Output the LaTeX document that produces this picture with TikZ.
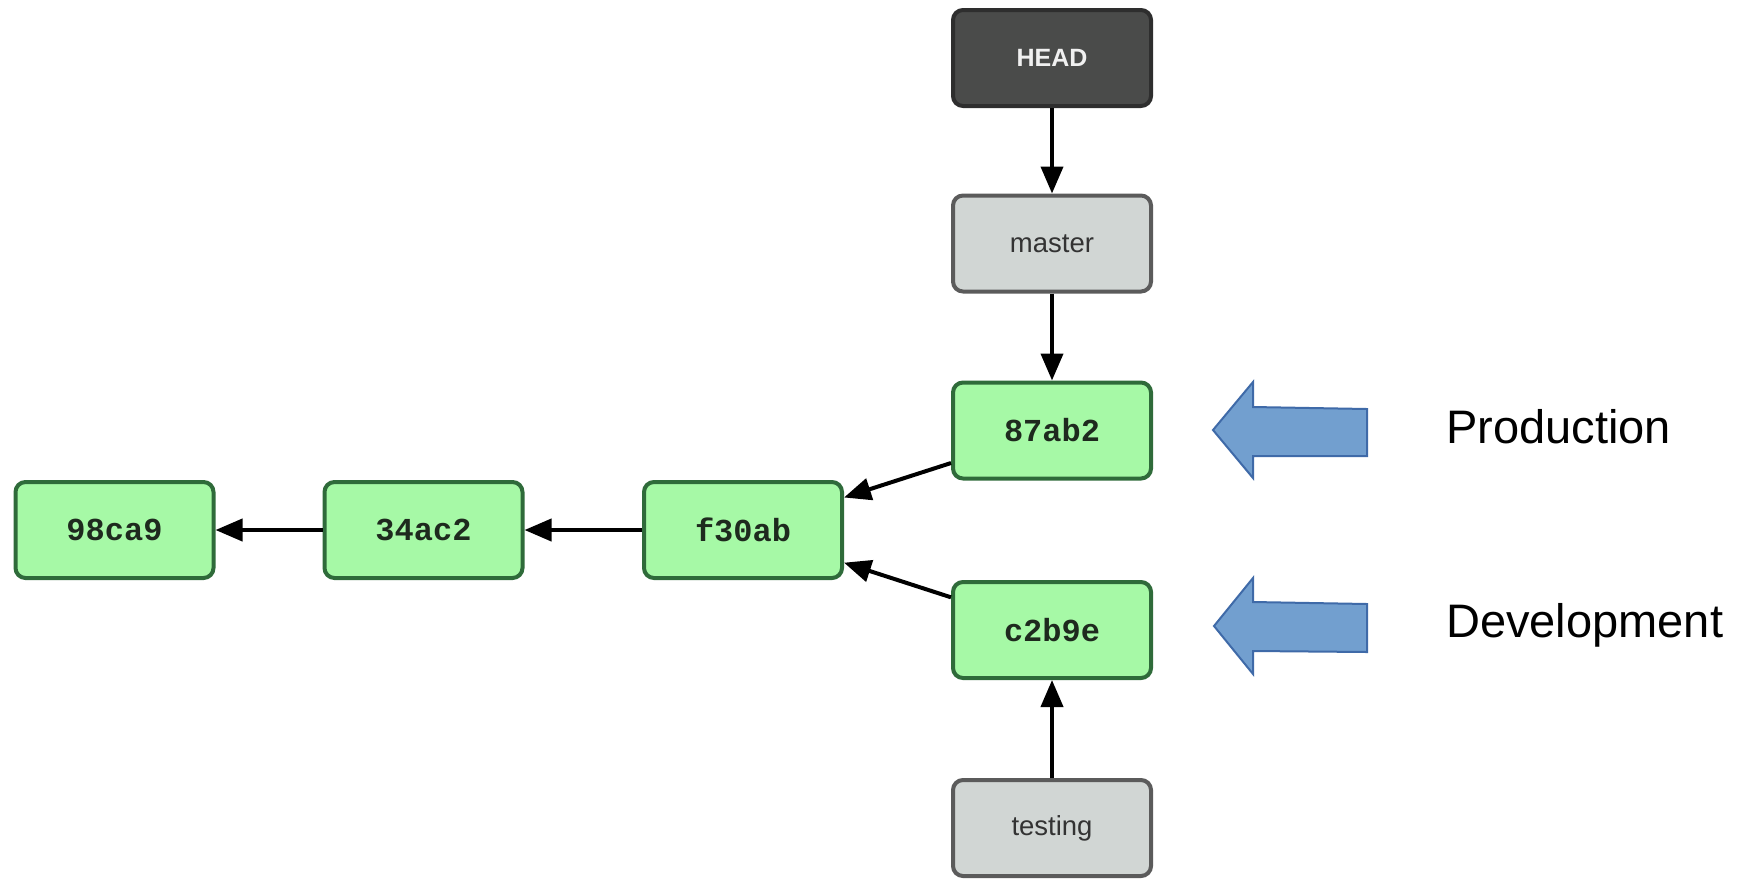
\documentclass[tikz,border=0pt]{standalone}
\usepackage{fontspec}
\setmainfont{Liberation Sans}
\newfontfamily\commitfont{Liberation Mono}
\usetikzlibrary{arrows.meta}
\definecolor{cgreen}{HTML}{A6F9A6}
\definecolor{cgreenborder}{HTML}{2F6B3A}
\definecolor{cgrey}{HTML}{D1D6D4}
\definecolor{cgreyborder}{HTML}{5B5B5B}
\definecolor{chead}{HTML}{4A4B4A}
\definecolor{cheadborder}{HTML}{2E2E2E}
\definecolor{cblue}{HTML}{729FCF}
\definecolor{cblueborder}{HTML}{3F6AA8}
\definecolor{ctext}{HTML}{1E2A1E}
\tikzset{
  box/.style={rectangle, rounded corners=10pt, line width=4pt, minimum width=198pt, minimum height=96pt, inner sep=0pt},
  commit/.style={box, draw=cgreenborder, fill=cgreen, text=ctext, font=\commitfont\bfseries\fontsize{32}{38}\selectfont},
  branch/.style={box, draw=cgreyborder, fill=cgrey, text=black!80, font=\fontsize{27.5}{33}\selectfont},
  headbox/.style={box, draw=cheadborder, fill=chead, text=white!94!black, font=\bfseries\fontsize{25}{30}\selectfont},
  link/.style={line width=4pt, -{Triangle[length=27pt,width=22pt]}},
  bigarrow/.style={draw=cblueborder, fill=cblue, line width=2pt, line join=miter},
  label/.style={anchor=base west, inner sep=0pt, font=\fontsize{47}{56}\selectfont}
}
\begin{document}
\begin{tikzpicture}[x=1pt, y=-1pt]
\useasboundingbox (0,0) rectangle (1744,879);
\node[headbox] (head) at (1052,58) {HEAD};
\node[branch] (master) at (1052,243.5) {master};
\node[commit] (c87) at (1052,430.5) {87ab2};
\node[commit] (c2b) at (1052,630) {c2b9e};
\node[branch] (testing) at (1052,828) {testing};
\node[commit] (f30) at (743,530) {f30ab};
\node[commit] (c34) at (423.5,530) {34ac2};
\node[commit] (c98) at (114.5,530) {98ca9};
\draw[link] (head) -- (master);
\draw[link] (master) -- (c87);
\draw[link] (testing) -- (c2b);
\draw[link] (c87) -- (f30);
\draw[link] (c2b) -- (f30);
\draw[link] (f30) -- (c34);
\draw[link] (c34) -- (c98);
\draw[bigarrow] (1213,430) -- (1253,382) -- (1253,407) -- (1367,409) -- (1367,456) -- (1253,456) -- (1253,478) -- cycle;
\draw[bigarrow] (1214,626) -- (1253,578) -- (1253,602) -- (1367,604) -- (1367,652) -- (1253,651) -- (1253,674) -- cycle;
\node[label] (prod) at (1446,443) {Production};
\node[label] (dev) at (1446,637) {Development};
\end{tikzpicture}
\end{document}
